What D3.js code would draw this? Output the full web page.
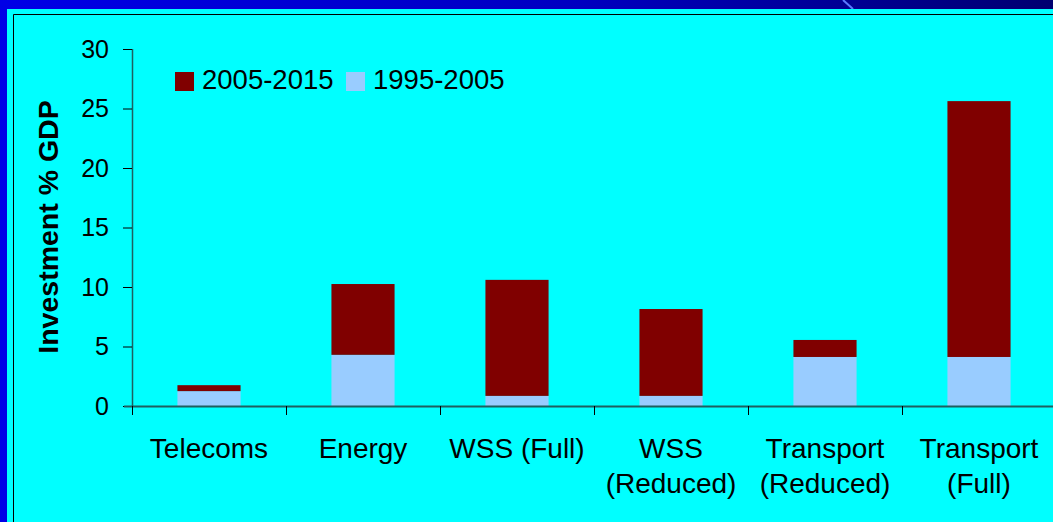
<!DOCTYPE html>
<html>
<head>
<meta charset="utf-8">
<script src="https://cdn.jsdelivr.net/npm/d3@7"></script>
<style>
html,body{margin:0;padding:0;background:#0000e0;}
svg{display:block;}
</style>
</head>
<body>
<svg id="chart" width="1053" height="522"></svg>
<script>
const categories = [["Telecoms"], ["Energy"], ["WSS (Full)"], ["WSS", "(Reduced)"], ["Transport", "(Reduced)"], ["Transport", "(Full)"]];
const series1995 = [1.25, 4.3, 0.85, 0.85, 4.12, 4.12];
const series2005 = [0.5, 5.95, 9.75, 7.3, 1.43, 21.5];
const seriesNames = ["2005-2015", "1995-2005"];
const yTicks = [0, 5, 10, 15, 20, 25, 30];

const FONT = "Liberation Sans, Arial, sans-serif";
const svg = d3.select("#chart");
const W = 1053, H = 522;

// background gradient
const defs = svg.append("defs");
const g1 = defs.append("linearGradient").attr("id", "bg").attr("x1", "0").attr("x2", "1").attr("y1", "0").attr("y2", "0");
g1.append("stop").attr("offset", "0").attr("stop-color", "#0000e6");
g1.append("stop").attr("offset", "0.55").attr("stop-color", "#0000c0");
g1.append("stop").attr("offset", "1").attr("stop-color", "#000070");
svg.append("rect").attr("width", W).attr("height", H).attr("fill", "url(#bg)");
svg.append("line").attr("x1", 843).attr("y1", 0).attr("x2", 853).attr("y2", 9)
  .attr("stroke", "#5a78ff").attr("stroke-width", 2);
svg.append("rect").attr("x", 7).attr("y", 9).attr("width", W - 7).attr("height", H - 9).attr("fill", "#00ffff");
svg.append("path").attr("d", `M13.5,${H} V14.5 H${W}`).attr("fill", "none").attr("stroke", "#000").attr("stroke-width", 1);

const x0 = 132, y0 = 406, yTop = 49;
const x = d3.scaleBand().domain(d3.range(categories.length)).range([x0, x0 + 154 * 6]).paddingInner(0.59).paddingOuter(0.295);
const y = d3.scaleLinear().domain([0, 30]).range([y0, yTop]);

const stacked = categories.map((c, i) => ({ i, a: series1995[i], b: series2005[i] }));

// bars
const bars = svg.append("g");
bars.selectAll("rect.low").data(stacked).join("rect")
  .attr("x", d => x(d.i)).attr("width", x.bandwidth())
  .attr("y", d => y(d.a)).attr("height", d => y(0) - y(d.a)).attr("fill", "#99ccff");
bars.selectAll("rect.high").data(stacked).join("rect")
  .attr("x", d => x(d.i)).attr("width", x.bandwidth())
  .attr("y", d => y(d.a + d.b)).attr("height", d => y(d.a) - y(d.a + d.b)).attr("fill", "#800000");

// y axis
const yAxis = d3.axisLeft(y).tickValues(yTicks).tickSize(9).tickPadding(14);
const ya = svg.append("g").attr("transform", `translate(${x0},0)`).call(yAxis);
ya.select(".domain").attr("stroke", "#1f5f5f").attr("stroke-width", 1.5).attr("d", `M0.5,${yTop}V${y0}`);
ya.selectAll(".tick line").attr("stroke", "#000");
ya.selectAll(".tick text").attr("font-family", FONT).attr("font-size", 25).attr("fill", "#000");

// x axis
const xg = svg.append("g").attr("transform", `translate(0,${y0})`);
xg.append("line").attr("x1", 124).attr("x2", W).attr("y1", 0.5).attr("y2", 0.5).attr("stroke", "#1f5f5f").attr("stroke-width", 2);
const tickPos = d3.range(categories.length + 1).map(k => x0 + k * x.step());
xg.selectAll("line.tk").data(tickPos).join("line").attr("class", "tk")
  .attr("x1", d => d + 0.5).attr("x2", d => d + 0.5).attr("y1", 0).attr("y2", 9).attr("stroke", "#000");
const labels = xg.selectAll("text.cat").data(categories).join("text").attr("class", "cat")
  .attr("x", (d, i) => x(i) + x.bandwidth() / 2).attr("y", 52)
  .attr("text-anchor", "middle").attr("font-family", FONT).attr("font-size", 28).attr("fill", "#000");
labels.selectAll("tspan").data(d => d).join("tspan")
  .attr("x", function () { return this.parentNode.getAttribute("x"); })
  .attr("dy", (d, j) => j === 0 ? 0 : 35).text(d => d);

// y label
svg.append("text").attr("transform", `translate(58,227) rotate(-90)`).attr("text-anchor", "middle")
  .attr("font-family", FONT).attr("font-size", 28.5).attr("font-weight", "bold")
  .attr("fill", "#000").text("Investment % GDP");

// legend
const legend = svg.append("g");
const legendColors = ["#800000", "#99ccff"];
const lx = [175, 346];
seriesNames.forEach((n, i) => {
  legend.append("rect").attr("x", lx[i]).attr("y", 72).attr("width", 19).attr("height", 19).attr("fill", legendColors[i]);
  legend.append("text").attr("x", lx[i] + 27).attr("y", 89).attr("font-family", FONT)
    .attr("font-size", 27.5).attr("fill", "#000").text(n);
});
</script>
</body>
</html>
